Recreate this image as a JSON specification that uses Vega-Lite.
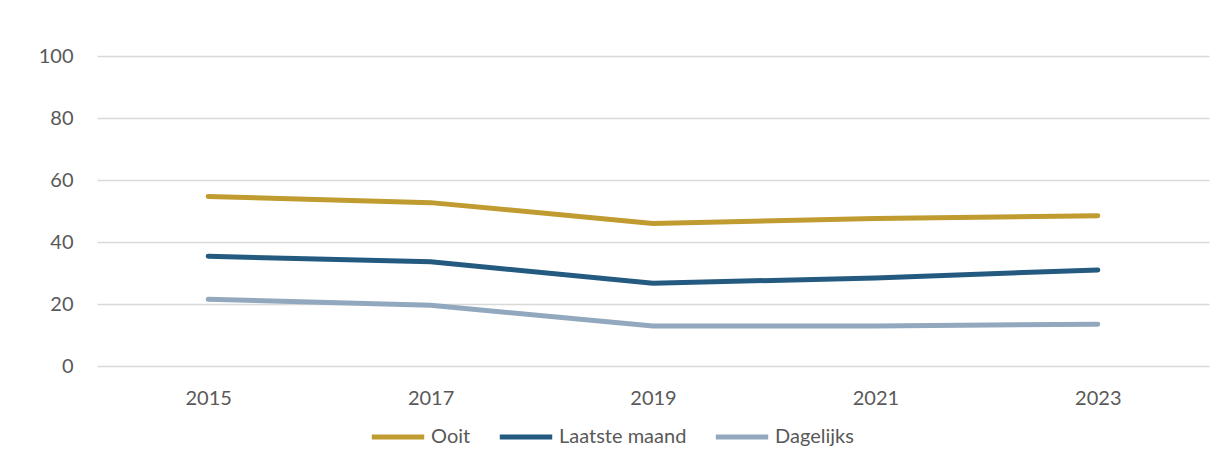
{
  "$schema": "https://vega.github.io/schema/vega-lite/v6.json",
  "autosize": {"type": "none"},
  "padding": {"left": 97, "top": 56, "right": 19, "bottom": 100},
  "width": 1112,
  "height": 310,
  "background": "white",
  "data": {
    "values": [
      {"jaar": "2015", "reeks": "Ooit", "waarde": 54.7},
      {"jaar": "2017", "reeks": "Ooit", "waarde": 52.7},
      {"jaar": "2019", "reeks": "Ooit", "waarde": 46.0},
      {"jaar": "2021", "reeks": "Ooit", "waarde": 47.6},
      {"jaar": "2023", "reeks": "Ooit", "waarde": 48.5},
      {"jaar": "2015", "reeks": "Laatste maand", "waarde": 35.4},
      {"jaar": "2017", "reeks": "Laatste maand", "waarde": 33.6},
      {"jaar": "2019", "reeks": "Laatste maand", "waarde": 26.7},
      {"jaar": "2021", "reeks": "Laatste maand", "waarde": 28.4},
      {"jaar": "2023", "reeks": "Laatste maand", "waarde": 31.0},
      {"jaar": "2015", "reeks": "Dagelijks", "waarde": 21.5},
      {"jaar": "2017", "reeks": "Dagelijks", "waarde": 19.6},
      {"jaar": "2019", "reeks": "Dagelijks", "waarde": 12.9},
      {"jaar": "2021", "reeks": "Dagelijks", "waarde": 12.9},
      {"jaar": "2023", "reeks": "Dagelijks", "waarde": 13.5}
    ]
  },
  "mark": {"type": "line", "strokeWidth": 5, "strokeCap": "round", "strokeJoin": "round"},
  "encoding": {
    "x": {
      "field": "jaar", "type": "ordinal",
      "scale": {"type": "point", "padding": 0.5},
      "axis": {"title": null, "labelAngle": 0, "domain": false, "ticks": false, "labelPadding": 22, "grid": false}
    },
    "y": {
      "field": "waarde", "type": "quantitative",
      "scale": {"domain": [0, 100], "nice": false},
      "axis": {"title": null, "values": [0, 20, 40, 60, 80, 100], "domain": false, "ticks": false, "labelPadding": 24, "gridColor": "#d9d9d9", "gridWidth": 1.3}
    },
    "color": {
      "field": "reeks", "type": "nominal",
      "scale": {"domain": ["Ooit", "Laatste maand", "Dagelijks"], "range": ["#bf9b30", "#245a80", "#91a8be"]},
      "legend": {
        "title": null, "orient": "none", "direction": "horizontal",
        "legendX": 272, "legendY": 352,
        "symbolType": "stroke", "symbolSize": 2750, "symbolStrokeWidth": 5,
        "labelOffset": 4, "columnPadding": 18
      }
    }
  },
  "config": {
    "font": "Lato",
    "view": {"stroke": null},
    "axis": {"labelFont": "Lato", "labelFontSize": 20, "labelColor": "#595959"},
    "legend": {"labelFont": "Lato", "labelFontSize": 20, "labelColor": "#595959"}
  }
}
